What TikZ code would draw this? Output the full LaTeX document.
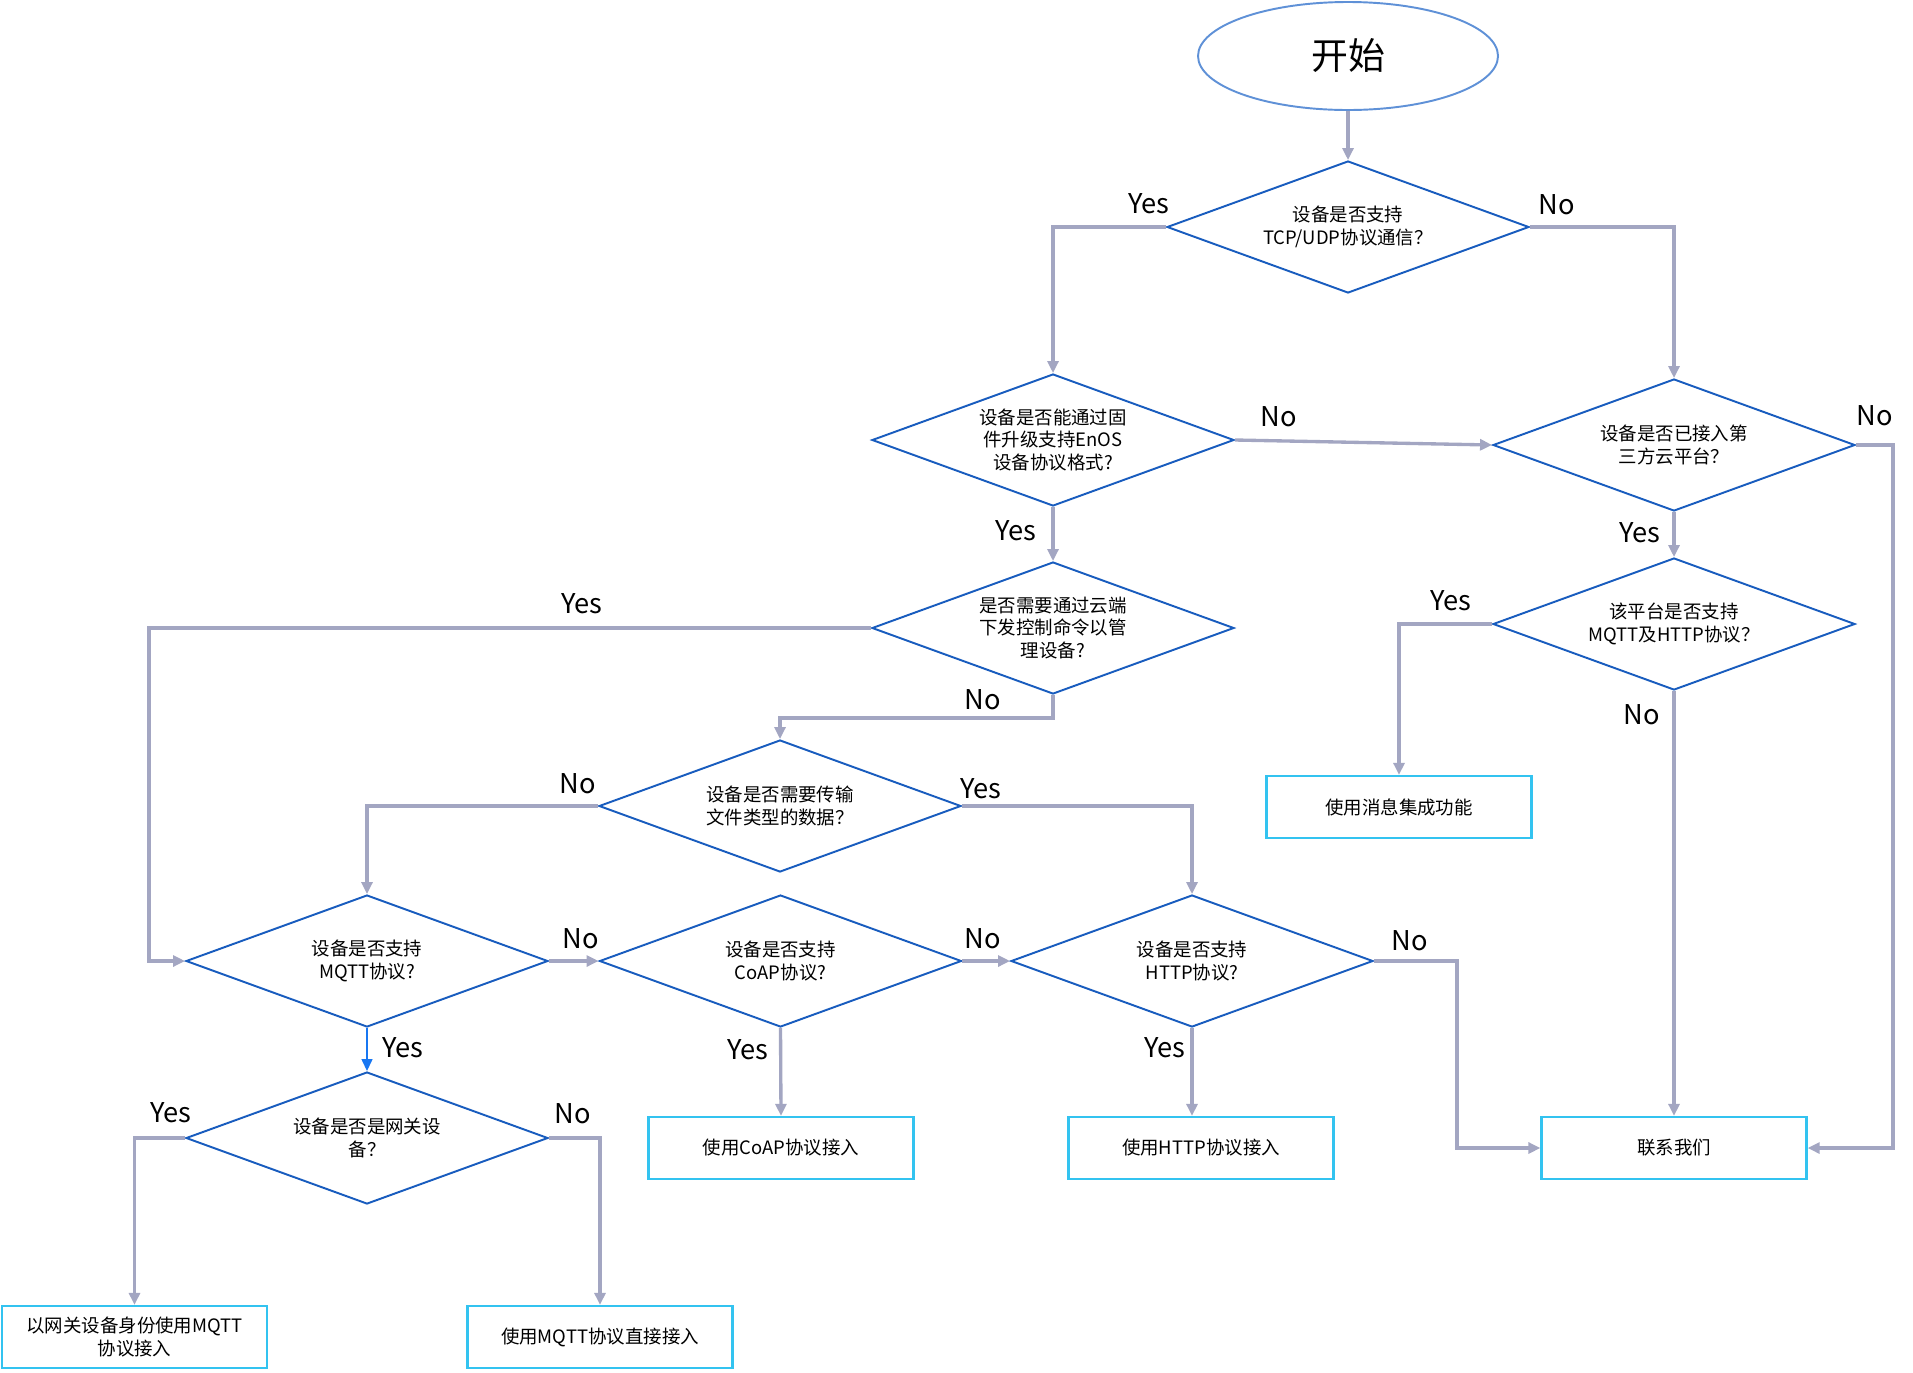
\documentclass[tikz,border=0pt]{standalone}
\usepackage{fontspec}
\setmainfont{Noto Sans CJK SC}
\usetikzlibrary{arrows.meta,shapes.geometric}

\definecolor{diamondblue}{RGB}{24,92,190}
\definecolor{startblue}{RGB}{95,145,215}
\definecolor{boxcyan}{RGB}{51,195,240}
\definecolor{arrowgray}{RGB}{163,166,194}
\definecolor{yesblue}{RGB}{24,119,242}

\begin{document}
\begin{tikzpicture}[
  x=1cm,
  y=1cm,
  >={Triangle[length=0.24cm,width=0.22cm]},
  every node/.style={font=\fontsize{10.5}{12.8}\selectfont},
  flowstart/.style={
    ellipse,
    draw=startblue,
    line width=1.1pt,
    minimum width=6.0cm,
    minimum height=2.16cm,
    font=\fontsize{21}{24}\selectfont,
  },
  flowdiamond/.style={
    diamond,
    aspect=2.75,
    draw=diamondblue,
    line width=1.1pt,
    align=center,
    inner sep=0pt,
    minimum width=7.24cm,
    minimum height=2.64cm,
  },
  flowbox/.style={
    draw=boxcyan,
    line width=1.3pt,
    align=center,
    minimum width=5.3cm,
    minimum height=1.24cm,
  },
  flowarrow/.style={->, draw=arrowgray, line width=1.9pt},
  flowlabel/.style={font=\fontsize{15.5}{18}\selectfont},
]
\useasboundingbox (0,0) rectangle (38.260,-27.440);

% decisions
\node[flowstart] (start) at (26.960,-1.120) {开始};
\node[flowdiamond] (tcp) at (26.960,-4.540) {设备是否支持\\TCP/UDP协议通信？};
\node[flowdiamond] (fw) at (21.060,-8.800) {设备是否能通过固\\件升级支持EnOS\\设备协议格式?};
\node[flowdiamond] (third) at (33.480,-8.900) {设备是否已接入第\\三方云平台？};
\node[flowdiamond] (cloud) at (21.060,-12.560) {是否需要通过云端\\下发控制命令以管\\理设备?};
\node[flowdiamond] (plat) at (33.480,-12.480) {该平台是否支持\\MQTT及HTTP协议？};
\node[flowdiamond] (file) at (15.600,-16.120) {设备是否需要传输\\文件类型的数据？};
\node[flowdiamond] (mqtt) at (7.340,-19.220) {设备是否支持\\MQTT协议?};
\node[flowdiamond] (coap) at (15.610,-19.220) {设备是否支持\\CoAP协议?};
\node[flowdiamond] (http) at (23.840,-19.220) {设备是否支持\\HTTP协议?};
\node[flowdiamond] (gw) at (7.340,-22.760) {设备是否是网关设\\备？};

% results
\node[flowbox] (msg) at (27.980,-16.140) {使用消息集成功能};
\node[flowbox] (coapbox) at (15.620,-22.960) {使用CoAP协议接入};
\node[flowbox] (httpbox) at (24.020,-22.960) {使用HTTP协议接入};
\node[flowbox] (contact) at (33.480,-22.960) {联系我们};
\node[flowbox] (gwbox) at (2.690,-26.740) {以网关设备身份使用MQTT\\协议接入};
\node[flowbox] (directbox) at (12.000,-26.740) {使用MQTT协议直接接入};

\coordinate (mqttin) at (2.980,-19.220);
\coordinate (contactin) at (29.140,-22.960);
\coordinate (thirdout) at (37.860,-22.960);

% connectors
\draw[flowarrow] (start.south) -- (tcp.north);
\draw[flowarrow] (tcp.west) -| (fw.north);
\draw[flowarrow] (tcp.east) -| (third.north);
\draw[flowarrow] (fw.east) -- (third.west);
\draw[flowarrow] (fw.south) -- (cloud.north);
\draw[flowarrow] (third.south) -- (plat.north);
\draw[flowarrow] (third.east) -| (thirdout) -- (contact.east);
\draw[flowarrow] (plat.west) -| (msg.north);
\draw[flowarrow] (plat.south) -- (contact.north);
\draw[flowarrow] (cloud.west) -| (mqttin) -- (mqtt.west);
\draw[flowarrow] (cloud.south) -- ++(0,-0.46) -| (file.north);
\draw[flowarrow] (file.west) -| (mqtt.north);
\draw[flowarrow] (file.east) -| (http.north);
\draw[flowarrow] (mqtt.east) -- (coap.west);
\draw[flowarrow] (coap.east) -- (http.west);
\draw[flowarrow] (http.east) -| (contactin) -- (contact.west);
\draw[->, draw=yesblue, fill=yesblue, line width=0.8pt] (mqtt.south) -- (gw.north);
\draw[flowarrow] (coap.south) -- (coapbox.north);
\draw[flowarrow] (http.south) -- (http.south |- httpbox.north);
\draw[flowarrow] (gw.west) -| (gwbox.north);
\draw[flowarrow] (gw.east) -| (directbox.north);

% branch labels
\node[flowlabel] (l1) at (22.980,-4.080) {Yes};
\node[flowlabel] (l2) at (31.140,-4.100) {No};
\node[flowlabel] (l3) at (25.580,-8.340) {No};
\node[flowlabel] (l4) at (20.320,-10.620) {Yes};
\node[flowlabel] (l5) at (37.500,-8.320) {No};
\node[flowlabel] (l6) at (32.800,-10.660) {Yes};
\node[flowlabel] (l7) at (29.020,-12.020) {Yes};
\node[flowlabel] (l8) at (32.840,-14.300) {No};
\node[flowlabel] (l9) at (11.640,-12.080) {Yes};
\node[flowlabel] (l10) at (19.660,-14.000) {No};
\node[flowlabel] (l11) at (11.560,-15.680) {No};
\node[flowlabel] (l12) at (19.620,-15.780) {Yes};
\node[flowlabel] (l13) at (11.620,-18.780) {No};
\node[flowlabel] (l14) at (19.660,-18.780) {No};
\node[flowlabel] (l15) at (28.200,-18.820) {No};
\node[flowlabel] (l16) at (8.060,-20.960) {Yes};
\node[flowlabel] (l17) at (14.960,-21.000) {Yes};
\node[flowlabel] (l18) at (23.300,-20.960) {Yes};
\node[flowlabel] (l19) at (3.420,-22.260) {Yes};
\node[flowlabel] (l20) at (11.460,-22.280) {No};
\end{tikzpicture}
\end{document}
